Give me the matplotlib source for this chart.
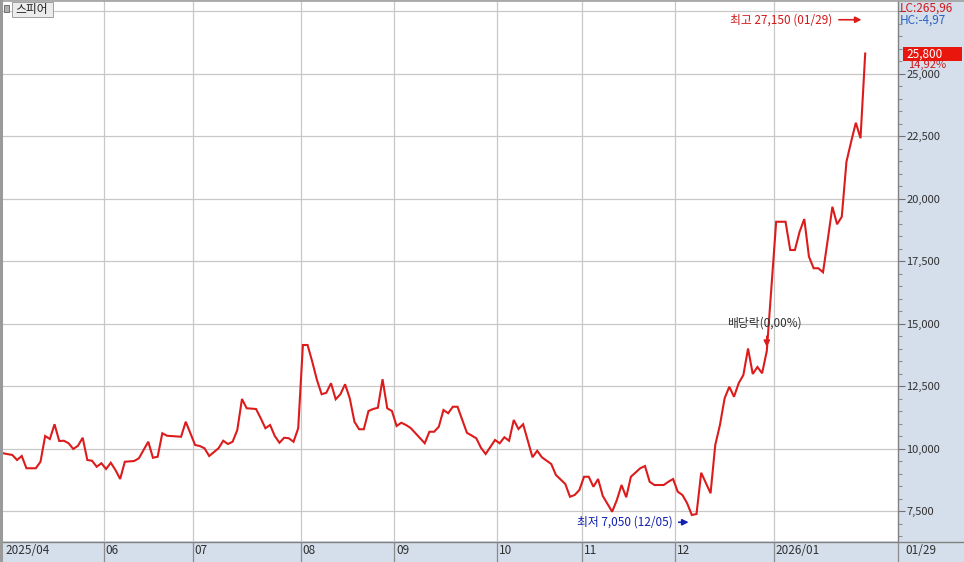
import matplotlib
matplotlib.use("Agg")
import matplotlib.pyplot as plt
from matplotlib.ticker import MultipleLocator, FuncFormatter
from matplotlib.patches import Rectangle
from matplotlib.lines import Line2D

plt.rcParams['font.family'] = ['Noto Sans CJK KR', 'DejaVu Sans']

# ---- data (trading-day index, close) ----
day_idx = [0, 2, 3, 4, 5, 7, 8, 9, 10, 11, 12, 13, 14, 15, 16, 17, 18, 19, 20, 21,
           22, 23, 24, 25, 26, 28, 29, 31, 32, 33, 34, 35, 38, 39, 41, 42, 43, 44, 46, 47,
           48, 49, 50, 51, 52, 54, 55, 56, 57, 58, 59, 60, 61, 62, 63, 64, 65, 66, 67, 68,
           69, 70, 71, 72, 73, 74, 75, 76, 77, 78, 79, 80, 81, 82, 83, 84, 85, 86, 87, 90,
           91, 92, 93, 94, 95, 96, 97, 99, 101, 102, 103, 105, 106, 107, 108, 109, 110, 111, 113, 114,
           115, 117, 118, 120, 121, 122, 123, 124, 125, 126, 127, 128, 130, 131, 132, 133, 134, 136, 137, 138,
           139, 141, 142, 143, 144, 145, 146, 147, 148, 149, 151, 152, 153, 154, 155, 156, 157, 158, 159, 160,
           161, 162, 163, 164, 165, 167, 168, 169, 170, 171, 172, 173, 174, 175, 176, 177, 178, 179, 180, 181,
           182, 183, 184]
close = [9810, 9740, 9540, 9700, 9210, 9210, 9470, 10500, 10380, 10970, 10300, 10310, 10210, 9980, 10110, 10430, 9540, 9510, 9270, 9410,
         9180, 9430, 9140, 8780, 9470, 9500, 9610, 10270, 9630, 9670, 10610, 10510, 10470, 11070, 10140, 10100, 10010, 9700, 10010, 10310,
         10180, 10270, 10740, 11980, 11610, 11580, 11210, 10810, 10940, 10500, 10230, 10430, 10410, 10270, 10810, 14140, 14140, 13470, 12740, 12170,
         12230, 12610, 11970, 12170, 12570, 12010, 11070, 10770, 10770, 11500, 11580, 11630, 12770, 11610, 11500, 10900, 11030, 10940, 10820, 10210,
         10670, 10670, 10870, 11540, 11410, 11670, 11670, 10630, 10410, 10030, 9780, 10340, 10210, 10450, 10310, 11140, 10780, 10970, 9650, 9910,
         9650, 9380, 8940, 8580, 8070, 8140, 8340, 8870, 8870, 8470, 8780, 8100, 7470, 7940, 8540, 8050, 8870, 9210, 9300, 8670,
         8540, 8540, 8670, 8780, 8270, 8140, 7810, 7340, 7380, 9030, 8210, 10140, 10940, 12010, 12470, 12070, 12610, 12940, 14000, 12980,
         13260, 13010, 13900, 16500, 19070, 19070, 17940, 17940, 18670, 19180, 17670, 17210, 17210, 17050, 18340, 19670, 18970, 19270, 21470, 22270,
         23030, 22410, 25800]

month_idx = [0, 22, 41, 64, 84, 106, 124, 144, 165]
month_labels = ['2025/04', '06', '07', '08', '09', '10', '11', '12', '2026/01']
last_label = '01/29'

high_val, high_text = 27150, '최고 27,150 (01/29)'
high_idx = 184
low_val, low_text = 7050, '최저 7,050 (12/05)'
low_idx = 147
div_idx, div_val, div_text = 163, 13900, '배당락(0,00%)'
last_text, pct_text = '25,800', '14,92%'
lc_text, hc_text = 'LC:265,96', 'HC:-4,97'
name_text = '스피어'

# ---- figure ----
W, H = 964, 562
fig = plt.figure(figsize=(W / 100, H / 100), dpi=100)
fig.patch.set_facecolor('#d5dfeb')

def fx(px):
    return px / W

def fy(py):
    return 1 - py / H

ax = fig.add_axes([fx(3), fy(541), fx(898) - fx(3), fy(1) - fy(541)])
ax.set_facecolor('white')
red = '#dc1c1c'
ax.plot(day_idx, close, color=red, lw=1.5, solid_joinstyle='miter', zorder=3)

ax.set_xlim(0, 191)
ax.set_ylim(6300, 27900)

# grid
for m in month_idx[1:]:
    ax.axvline(m - 0.5, color='#c8c8c8', lw=0.9, zorder=1)
ax.yaxis.set_major_locator(MultipleLocator(2500))
ax.yaxis.set_minor_locator(MultipleLocator(500))
ax.grid(axis='y', which='major', color='#c8c8c8', lw=0.9, zorder=1)
ax.set_xticks([])
ax.yaxis.tick_right()
ax.yaxis.set_major_formatter(FuncFormatter(lambda v, p: f'{int(v):,}' if 7500 <= v <= 25000 else ''))
ax.tick_params(axis='y', which='major', length=5, width=0.8, color='#707070',
               labelsize=8, labelcolor='#303030', pad=1)
ax.tick_params(axis='y', which='minor', length=3, width=0.8, color='#909090')
for s in ['top', 'left', 'bottom']:
    ax.spines[s].set_visible(False)
ax.spines['right'].set_color('#808080')
ax.spines['right'].set_linewidth(1.0)

# annotations: high
ax.annotate('', xy=(high_idx - 0.2, high_val), xytext=(177.8, high_val),
            arrowprops=dict(arrowstyle='-|>', color=red, lw=1.2, mutation_scale=9),
            annotation_clip=False)
ax.text(177.0, high_val, high_text, color='#d01818', fontsize=8.5, ha='right', va='center')

# low
blue = '#1020b0'
ax.annotate('', xy=(low_idx - 0.1, low_val), xytext=(143.6, low_val),
            arrowprops=dict(arrowstyle='-|>', color=blue, lw=1.2, mutation_scale=9),
            annotation_clip=False)
ax.text(143.0, low_val, low_text, color=blue, fontsize=8.5, ha='right', va='center')

# dividend
ax.annotate('', xy=(div_idx, div_val + 50), xytext=(div_idx, div_val + 700),
            arrowprops=dict(arrowstyle='-|>', color=red, lw=1.2, mutation_scale=9))
ax.text(div_idx - 0.5, div_val + 1100, div_text, color='#303030', fontsize=8.5, ha='center', va='center')

# right panel texts
fig.text(fx(900), fy(8), lc_text, color='#d01818', fontsize=8.5, ha='left', va='center')
fig.text(fx(900), fy(20), hc_text, color='#2a62c0', fontsize=8.5, ha='left', va='center')
fig.patches.append(Rectangle((fx(903), fy(61)), fx(962) - fx(903), fy(47) - fy(61),
                             transform=fig.transFigure, facecolor='#e8160c', edgecolor='none', zorder=5))
fig.text(fx(906), fy(54), last_text, color='white', fontsize=8.5, ha='left', va='center', zorder=6)
fig.text(fx(908), fy(64.5), pct_text, color='#d01818', fontsize=8, ha='left', va='center', zorder=6)

# bottom band
fig.add_artist(Line2D([fx(0), fx(964)], [fy(541.5), fy(541.5)], color='#808080', lw=1.0))
for m, lab in zip(month_idx, month_labels):
    xd = m - 0.5 if m > 0 else 0
    xp = ax.transData.transform((xd, 0))[0] / fig.bbox.width
    if m > 0:
        fig.add_artist(Line2D([xp, xp], [fy(562), fy(541.5)], color='#8a8a8a', lw=0.9))
    fig.text(xp + fx(2), fy(551), lab, color='#303030', fontsize=8.5, ha='left', va='center')
fig.add_artist(Line2D([fx(898), fx(898)], [fy(562), fy(541.5)], color='#8a8a8a', lw=0.9))
fig.text(fx(905), fy(551), last_label, color='#303030', fontsize=8.5, ha='left', va='center')

# borders
fig.add_artist(Line2D([fx(0), fx(964)], [fy(0.5), fy(0.5)], color='#a0a0a0', lw=1.2))
fig.add_artist(Line2D([fx(1.2), fx(1.2)], [fy(0), fy(562)], color='#9a9a9a', lw=2.2))

# title box top-left
fig.patches.append(Rectangle((fx(4), fy(12)), fx(5), fy(5) - fy(12), transform=fig.transFigure,
                             facecolor='#b0b0b0', edgecolor='#707070', lw=0.7, zorder=5))
fig.patches.append(Rectangle((fx(12), fy(17)), fx(41), fy(2) - fy(17), transform=fig.transFigure,
                             facecolor='#ececec', edgecolor='#a0a0a0', lw=0.7, zorder=5))
fig.text(fx(15), fy(9.5), name_text, color='#202020', fontsize=8.5, ha='left', va='center', zorder=6)

fig.savefig('out.png', dpi=100, facecolor=fig.get_facecolor())
